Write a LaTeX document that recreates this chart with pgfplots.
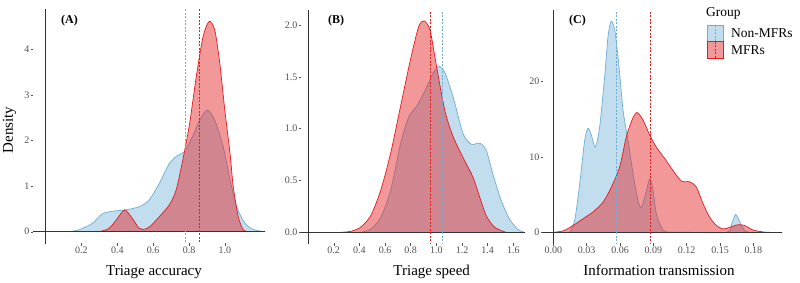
\documentclass[border=0pt]{standalone}
\usepackage{fontspec}
\setmainfont{Liberation Serif}
\usepackage{pgfplots}
\pgfplotsset{compat=1.18}
\definecolor{bl}{RGB}{107,174,214}
\definecolor{rd}{RGB}{228,26,28}
\definecolor{tk}{RGB}{80,80,80}
\definecolor{ax}{RGB}{51,51,51}
\tikzset{
  zline/.style={ax, line width=0.7pt},
  bmean/.style={bl, line width=0.8pt, dash pattern=on 2pt off 1.5pt},
  rmean/.style={rd, line width=0.8pt, dash pattern=on 2pt off 1.5pt},
}
\pgfplotsset{
  dens/.style={
    scale only axis, anchor=south west, height=233pt,
    axis line style={draw=none}, tick pos=left, tick align=outside,
    major tick length=2.5pt, tick style={tk, line width=0.4pt},
    ticklabel style={font=\fontsize{10}{11}\selectfont, text=tk},
    /pgf/number format/assume math mode=true,
    scaled ticks=false, clip=true,
    xticklabel style={inner ysep=1pt},
    yticklabel style={inner xsep=1pt},
  },
  bfill/.style={fill=bl, fill opacity=0.42, draw=bl, line width=0.7pt, smooth, tension=0.45},
  rfill/.style={fill=rd, fill opacity=0.45, draw=rd, line width=0.7pt, smooth, tension=0.45},
}
\begin{document}
\begin{tikzpicture}[x=1pt,y=1pt]
\useasboundingbox (0,0) rectangle (800,282);
% ---------- Panel A ----------
\begin{axis}[dens, at={(33pt,39pt)}, width=232pt,
  xmin=-0.070, xmax=1.223, ymin=-0.248, ymax=4.87,
  xtick={0.2,0.4,0.6,0.8,1.0}, ytick={0,1,2,3,4},
  xticklabel style={/pgf/number format/.cd, fixed, fixed zerofill, precision=1},
  yticklabel style={/pgf/number format/.cd, fixed, precision=0}]
\addplot[bfill] coordinates {(0.13,0)(0.185,0.04)(0.26,0.18)(0.315,0.39)(0.372,0.45)(0.447,0.48)(0.522,0.55)(0.578,0.70)(0.634,1.06)(0.69,1.50)(0.737,1.68)(0.775,1.76)(0.822,2.12)(0.859,2.45)(0.902,2.67)(0.943,2.45)(0.990,1.87)(1.028,1.14)(1.065,0.55)(1.112,0.18)(1.159,0.05)(1.215,0)};
\addplot[rfill] coordinates {(0.297,0)(0.353,0.07)(0.40,0.29)(0.441,0.48)(0.484,0.29)(0.52,0.08)(0.541,0.05)(0.578,0.10)(0.634,0.33)(0.690,0.59)(0.728,0.92)(0.765,1.58)(0.803,2.38)(0.840,3.41)(0.878,4.29)(0.912,4.62)(0.943,4.43)(0.971,3.70)(0.999,2.67)(1.028,1.72)(1.046,0.99)(1.074,0.33)(1.102,0.04)(1.13,0)};
\addplot[zline] coordinates {(-1,0)(2,0)};
\addplot[zline] coordinates {(0,-1)(0,10)};
\addplot[bmean] coordinates {(0.781,-1)(0.781,10)};
\addplot[rmean] coordinates {(0.855,-1)(0.855,10)};
\end{axis}
% ---------- Panel B ----------
\begin{axis}[dens, at={(301pt,39pt)}, width=224pt,
  xmin=-0.055, xmax=1.691, ymin=-0.103, ymax=2.145,
  xtick={0.2,0.4,0.6,0.8,1.0,1.2,1.4,1.6}, ytick={0,0.5,1,1.5,2},
  xticklabel style={/pgf/number format/.cd, fixed, fixed zerofill, precision=1},
  yticklabel style={/pgf/number format/.cd, fixed, fixed zerofill, precision=1}]
\addplot[bfill] coordinates {(0.411,0)(0.488,0.03)(0.565,0.14)(0.643,0.40)(0.720,0.85)(0.784,1.11)(0.848,1.22)(0.913,1.37)(0.977,1.54)(1.025,1.60)(1.067,1.54)(1.132,1.30)(1.209,0.95)(1.273,0.85)(1.338,0.86)(1.389,0.79)(1.441,0.56)(1.505,0.31)(1.569,0.13)(1.634,0.03)(1.685,0)};
\addplot[rfill] coordinates {(0.256,0)(0.334,0.01)(0.411,0.05)(0.488,0.16)(0.565,0.40)(0.643,0.76)(0.720,1.21)(0.797,1.66)(0.861,1.98)(0.903,2.04)(0.951,1.95)(1.003,1.59)(1.067,1.17)(1.132,0.92)(1.209,0.72)(1.286,0.53)(1.338,0.34)(1.389,0.16)(1.453,0.05)(1.543,0)};
\addplot[zline] coordinates {(-1,0)(2,0)};
\addplot[zline] coordinates {(0,-1)(0,10)};
\addplot[rmean] coordinates {(0.954,-1)(0.954,10)};
\addplot[bmean] coordinates {(1.045,-1)(1.045,10)};
\end{axis}
% ---------- Panel C ----------
\begin{axis}[dens, at={(543pt,39pt)}, width=239pt,
  xmin=-0.0093, xmax=0.2058, ymin=-1.42, ymax=29.5,
  xtick={0,0.03,0.06,0.09,0.12,0.15,0.18}, ytick={0,10,20},
  xticklabel style={/pgf/number format/.cd, fixed, fixed zerofill, precision=2},
  yticklabel style={/pgf/number format/.cd, fixed, precision=0}]
\addplot[bfill] coordinates {(0.0147,0)(0.0192,1.56)(0.0237,6.4)(0.0282,12.2)(0.0312,13.8)(0.0342,12.9)(0.0378,11.3)(0.0417,14.0)(0.0462,20.7)(0.0492,26.0)(0.0520,28.0)(0.0552,26.9)(0.0591,22.0)(0.0627,16.2)(0.0672,12.2)(0.0717,7.8)(0.0762,4.2)(0.0792,3.3)(0.0831,5.1)(0.0867,7.1)(0.0897,5.6)(0.0927,2.4)(0.0972,0.67)(0.1017,0.05)(0.12,0)(0.156,0)(0.1604,1.1)(0.164,2.36)(0.168,1.33)(0.1722,0.2)(0.1767,0)};
\addplot[rfill] coordinates {(0,0)(0.009,0.2)(0.0177,0.9)(0.0267,1.8)(0.0357,2.7)(0.0447,4.0)(0.0522,6.0)(0.0597,8.7)(0.0657,12.7)(0.0708,14.9)(0.0753,15.9)(0.0807,14.9)(0.0867,12.9)(0.0927,11.3)(0.1002,9.8)(0.1077,8.2)(0.1152,6.8)(0.1227,6.7)(0.1287,6.0)(0.1347,3.8)(0.1407,2.0)(0.1467,0.9)(0.1527,0.44)(0.1587,0.67)(0.1662,1.0)(0.1722,0.9)(0.1797,0.3)(0.1887,0.05)(0.1947,0)};
\addplot[zline] coordinates {(-1,0)(2,0)};
\addplot[zline] coordinates {(0,-10)(0,40)};
\addplot[bmean] coordinates {(0.0564,-10)(0.0564,40)};
\addplot[rmean] coordinates {(0.087,-10)(0.087,40)};
\end{axis}
% ---------- labels ----------
\node[font=\fontsize{12}{13}\selectfont\bfseries] at (69.5,261) {(A)};
\node[font=\fontsize{12}{13}\selectfont\bfseries] at (336,261) {(B)};
\node[font=\fontsize{12}{13}\selectfont\bfseries] at (577.5,261) {(C)};
\node[font=\fontsize{15}{16}\selectfont, anchor=base] at (154,7) {Triage accuracy};
\node[font=\fontsize{15}{16}\selectfont, anchor=base] at (431.7,7) {Triage speed};
\node[font=\fontsize{15}{16}\selectfont, anchor=base] at (659,7) {Information transmission};
\node[font=\fontsize{15}{16}\selectfont, anchor=base, rotate=90] at (13,152) {Density};
% ---------- legend ----------
\node[font=\fontsize{13.5}{14}\selectfont, anchor=west, inner sep=0pt] at (706,269) {Group};
\fill[bl, fill opacity=0.42] (707,240.5) rectangle (723.3,257);
\draw[bl, line width=0.7pt] (707,240.5) rectangle (723.3,257);
\draw[bmean] (715.1,241) -- (715.1,256.5);
\fill[rd, fill opacity=0.45] (707,224) rectangle (723.3,240.5);
\draw[rd, line width=0.7pt] (707,224) rectangle (723.3,240.5);
\draw[rmean] (715.1,224.5) -- (715.1,240);
\node[font=\fontsize{13.5}{14}\selectfont, anchor=west, inner sep=0pt] at (731,249) {Non-MFRs};
\node[font=\fontsize{13.5}{14}\selectfont, anchor=west, inner sep=0pt] at (731,232) {MFRs};
\end{tikzpicture}
\end{document}
